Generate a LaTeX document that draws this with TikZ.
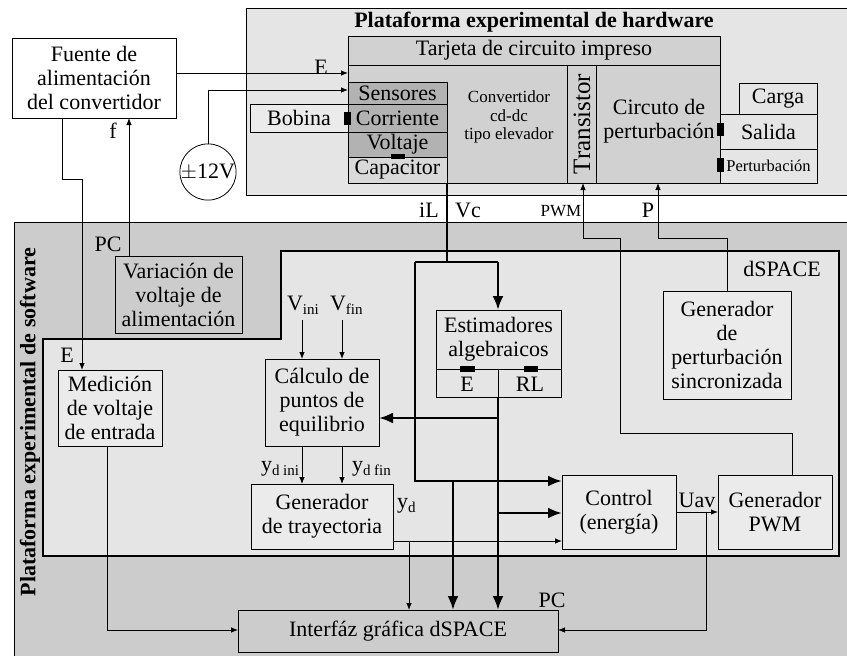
\documentclass[tikz,border=0pt]{standalone}
\usepackage{fontspec}
\setmainfont{Liberation Serif}
\usetikzlibrary{arrows.meta}
\definecolor{hwbg}{gray}{0.90}
\definecolor{tgray}{gray}{0.82}
\definecolor{sgray}{gray}{0.70}
\definecolor{cgray}{gray}{0.85}
\definecolor{swbg}{gray}{0.80}
\definecolor{dsbg}{gray}{0.90}
\definecolor{lbox}{gray}{0.92}
\newcommand\fn{\fontsize{22}{24}\selectfont}
\newcommand\fm{\fontsize{17}{18.5}\selectfont}
\newcommand\fs{\fontsize{15}{15}\selectfont}
\newcommand\fsub[1]{\raisebox{-0.45ex}{\fs #1}}
\begin{document}
\begin{tikzpicture}[x=1pt,y=-1pt,
  every node/.style={inner sep=0pt,outer sep=0pt},
  box/.style={draw,line width=0.9pt,anchor=north west,align=center,font=\fn},
  lbl/.style={font=\fn},
  arr/.style={line width=0.8pt,-{Latex[length=7pt,width=5.5pt]}},
  thn/.style={line width=0.8pt},
  thk/.style={line width=2.6pt},
  tarr/.style={line width=2.6pt,-{Latex[length=14pt,width=11pt]}},
  tab/.style={fill=black,draw=none}]
\useasboundingbox (0,0) rectangle (847,656);
\fill[white] (0,0) rectangle (847,656);
% ---------- hardware platform
\node[box,fill=hwbg,minimum width=620pt,minimum height=187pt] (hw) at (246,8) {};
\node[font=\bfseries\fn] (hwt) at (534,22) {Plataforma experimental de hardware};
\node[box,fill=tgray,minimum width=372pt,minimum height=147pt] (tarjeta) at (348,36) {};
\draw[line width=0.9pt] (tarjeta.west |- 0,65) -- (tarjeta.east |- 0,65);
\node[lbl] (tarjt) at (534,50.5) {Tarjeta de circuito impreso};
\node[box,fill=sgray,minimum width=99pt,minimum height=22pt] (sens) at (348,82) {Sensores};
\node[box,fill=sgray,minimum width=99pt,minimum height=28pt] (corr) at (348,104) {Corriente};
\node[box,fill=sgray,minimum width=99pt,minimum height=25pt] (volt) at (348,132) {Voltaje};
\node[box,fill=cgray,minimum width=99pt,minimum height=26pt] (cap) at (348,157) {Capacitor};
\node[box,fill=lbox,minimum width=98pt,minimum height=28pt] (bob) at (250,104) {Bobina};
\node[tab,minimum width=7pt,minimum height=13pt] (tab1) at (347.5,118.5) {};
\node[tab,minimum width=14pt,minimum height=5pt] (tab2) at (398,156.5) {};
\node[font=\fm,align=center] (conv) at (509,117) {Convertidor\\cd-dc\\tipo elevador};
\node[box,minimum width=29pt,minimum height=118pt] (trans) at (567,65) {};
\node[font=\fontsize{25}{25}\selectfont,rotate=90] (transt) at (582,124) {Transistor};
\node[box,minimum width=124pt,minimum height=118pt] (circ) at (596,65) {};
\node[lbl,align=center] (circt) at (659,121) {Circuto de\\perturbación};
\node[box,fill=hwbg,minimum width=78pt,minimum height=31pt] (carga) at (739,83) {Carga};
\node[box,fill=hwbg,minimum width=97pt,minimum height=35pt] (salida) at (720,114) {Salida};
\node[box,fill=hwbg,minimum width=97pt,minimum height=34pt,font=\fontsize{16.5}{17}\selectfont] (pert) at (720,149) {Perturbación};
\node[tab,minimum width=7pt,minimum height=13pt] (tab3) at (720,129) {};
\node[tab,minimum width=7pt,minimum height=14pt] (tab4) at (720,165) {};
% ---------- power supply
\node[box,fill=white,minimum width=164pt,minimum height=80pt] (fuente) at (12,38) {Fuente de\\alimentación\\del convertidor};
\node[draw,thn,circle,minimum size=56pt,font=\fn,fill=white] (v12) at (208,172) {$\pm$12V};
% ---------- software platform
\node[box,fill=swbg,minimum width=850pt,minimum height=450pt] (sw) at (14,222) {};
\node[font=\bfseries\fn,rotate=90] (swt) at (30,422) {Plataforma experimental de software};
\draw[line width=2.8pt,fill=dsbg] (43,339) -- (281,339) -- (281,251) -- (839,251) -- (839,556) -- (43,556) -- cycle;
\node[lbl] (dst) at (782,269) {dSPACE};
\node[box,fill=swbg,minimum width=127pt,minimum height=77pt] (var) at (115,256) {Variación de\\voltaje de\\alimentación};
\node[box,fill=lbox,minimum width=104pt,minimum height=76pt] (med) at (58,370) {Medición\\de voltaje\\de entrada};
\node[box,fill=dsbg,minimum width=114pt,minimum height=87pt] (calc) at (265,359) {Cálculo de\\puntos de\\equilibrio};
\node[box,fill=dsbg,minimum width=125pt,minimum height=87pt] (est) at (436,310) {};
\node[lbl,align=center] (estt) at (498.5,339.5) {Estimadores\\algebraicos};
\draw[thn] (est.west |- 0,369) -- (est.east |- 0,369);
\draw[thn] (est.south -| 498,0) -- (498,369);
\node[lbl] (estE) at (467,384) {E};
\node[lbl] (estRL) at (530,384) {RL};
\node[tab,minimum width=15pt,minimum height=6pt] (tab5) at (467.5,369) {};
\node[tab,minimum width=14pt,minimum height=6pt] (tab6) at (531,369) {};
\node[box,fill=lbox,minimum width=128pt,minimum height=108pt] (gpert) at (663,291) {Generador\\de\\perturbación\\sincronizada};
\node[box,fill=lbox,minimum width=142pt,minimum height=65pt] (gtray) at (251,484) {Generador\\de trayectoria};
\node[box,fill=lbox,minimum width=114pt,minimum height=74pt] (ctrl) at (562,475) {Control\\(energía)};
\node[box,fill=lbox,minimum width=114pt,minimum height=74pt] (gpwm) at (718,475) {Generador\\PWM};
\node[box,fill=swbg,minimum width=320pt,minimum height=42pt] (intf) at (238,610) {Interfáz gráfica dSPACE};
% ---------- labels
\node[lbl] (lE1) at (321,67) {E};
\node[lbl] (lf) at (113,131) {f};
\node[lbl] (lPC1) at (108,244) {PC};
\node[lbl] (lE2) at (67,355) {E};
\node[lbl] (liL) at (429,210) {iL};
\node[lbl] (lVc) at (468,210) {Vc};
\node[font=\fm] (lPWM) at (561,211) {PWM};
\node[lbl] (lP) at (648,210) {P};
\node[lbl,anchor=base west] (lVi) at (287,310) {V\fsub{ini}};
\node[lbl,anchor=base west] (lVf) at (330,310) {V\fsub{fin}};
\node[lbl,anchor=base west] (lyi) at (261,471) {y\fsub{d ini}};
\node[lbl,anchor=base west] (lyf) at (352,471) {y\fsub{d fin}};
\node[lbl,anchor=base west] (lyd) at (397,508) {y\fsub{d}};
\node[lbl] (lUav) at (697,500) {Uav};
\node[lbl] (lPC2) at (552,600) {PC};
% ---------- connectors
\draw[arr] (fuente.east |- 0,73) -- (tarjeta.west |- 0,73);
\draw[arr] (v12.north) -- (v12.north |- 0,90) -- (tarjeta.west |- 0,90);
\draw[arr] (fuente.south -| 62,0) -- (62,179) -- (82,179) -- (med.north -| 82,0);
\draw[arr] (var.north -| 129,0) -- (fuente.south -| 129,0);
\draw[thk] (tarjeta.south -| 447,0) -- (447,262);
\draw[thk] (415,262) -- (498,262);
\draw[tarr] (498,262) -- (est.north -| 498,0);
\draw[tarr] (415,262) -- (415,481) -- (ctrl.west |- 0,481);
\draw[tarr] (est.south -| 498,0) -- (intf.north -| 498,0);
\draw[tarr] (498,418) -- (calc.east |- 0,418);
\draw[tarr] (498,513) -- (ctrl.west |- 0,513);
\draw[tarr] (453,481) -- (intf.north -| 453,0);
\draw[arr] (gtray.east |- 0,541) -- (ctrl.west |- 0,541);
\draw[arr] (409,541) -- (intf.north -| 409,0);
\draw[arr] (302,320) -- (calc.north -| 302,0);
\draw[arr] (342,320) -- (calc.north -| 342,0);
\draw[arr] (calc.south -| 302,0) -- (gtray.north -| 302,0);
\draw[arr] (calc.south -| 342,0) -- (gtray.north -| 342,0);
\draw[arr] (ctrl.east |- 0,512) -- (gpwm.west |- 0,512);
\draw[arr] (706,512) -- (706,630) -- (intf.east |- 0,630);
\draw[arr] (med.south -| 107,0) -- (107,630) -- (intf.west |- 0,630);
\draw[arr] (gpert.north -| 727,0) -- (727,238) -- (658,238) -- (tarjeta.south -| 658,0);
\draw[arr] (gpwm.north -| 792,0) -- (792,433) -- (620,433) -- (620,238) -- (583,238) -- (tarjeta.south -| 583,0);
\end{tikzpicture}
\end{document}
